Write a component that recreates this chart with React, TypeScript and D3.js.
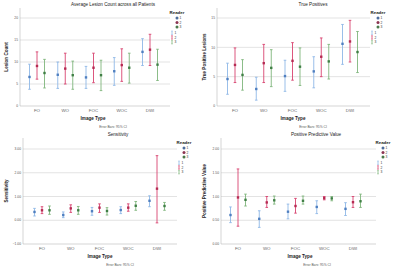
import React from "react";
import * as d3 from "d3";

const categories = ["FO", "WO", "FOC", "WOC", "DWI"];
const readers = ["1", "2", "3"];

// Average lesion count (per reader: FO, WO, FOC, WOC, DWI)
const lesionMean = [
  [6.6, 7.1, 6.5, 7.9, 12.3],
  [9.1, 8.5, 8.7, 9.3, 12.8],
  [7.5, 7.0, 7.0, 8.7, 9.4],
];
const lesionLow = [
  [3.8, 4.0, 4.0, 4.7, 9.2],
  [6.1, 5.0, 5.3, 5.6, 9.2],
  [4.1, 3.8, 3.5, 5.2, 5.8],
];
const lesionHigh = [
  [9.5, 10.0, 9.0, 11.0, 15.3],
  [12.3, 12.0, 12.0, 13.0, 16.3],
  [10.6, 10.2, 10.4, 12.0, 12.9],
];

// True positives
const tpMean = [
  [4.6, 2.9, 5.1, 5.9, 10.6],
  [7.0, 7.3, 7.7, 8.4, 11.0],
  [5.3, 6.5, 6.7, 7.6, 9.2],
];
const tpLow = [
  [2.0, 1.0, 2.5, 3.1, 7.1],
  [4.0, 4.0, 4.4, 5.0, 7.5],
  [2.7, 3.3, 3.5, 4.6, 5.7],
];
const tpHigh = [
  [7.3, 4.9, 7.8, 8.4, 13.9],
  [9.9, 10.5, 10.8, 11.6, 14.6],
  [7.9, 9.6, 9.9, 10.5, 12.7],
];

// Sensitivity
const sensMean = [
  [0.35, 0.22, 0.38, 0.43, 0.82],
  [0.42, 0.5, 0.53, 0.53, 1.33],
  [0.42, 0.42, 0.39, 0.61, 0.6],
];
const sensLow = [
  [0.18, 0.11, 0.21, 0.28, 0.57],
  [0.28, 0.33, 0.33, 0.38, -0.11],
  [0.25, 0.25, 0.22, 0.42, 0.42],
];
const sensHigh = [
  [0.5, 0.35, 0.54, 0.57, 1.03],
  [0.57, 0.65, 0.69, 0.69, 2.72],
  [0.6, 0.58, 0.53, 0.79, 0.75],
];

// Positive predictive value
const ppvMean = [
  [0.61, 0.53, 0.68, 0.78, 0.74],
  [0.98, 0.875, 0.8, 0.965, 0.88],
  [0.93, 0.92, 0.91, 0.96, 0.9],
];
const ppvLow = [
  [0.45, 0.35, 0.53, 0.64, 0.6],
  [0.375, 0.77, 0.65, 0.93, 0.77],
  [0.8, 0.84, 0.84, 0.91, 0.77],
];
const ppvHigh = [
  [0.78, 0.7, 0.84, 0.91, 0.87],
  [1.58, 1.0, 0.96, 1.0, 1.0],
  [1.05, 1.01, 1.01, 1.0, 1.05],
];

const lesionTicks = [0, 5, 10, 15, 20];
const tpTicks = [0, 5, 10, 15];
const sensTicks = [-1, 0, 1, 2, 3];
const ppvTicks = [0, 0.5, 1, 1.5, 2];

const barColors = ["#8fb8e6", "#d8436f", "#7fb57c"];
const markColors = ["#4f7fc0", "#b52a52", "#3f7f45"];
const legendColors = ["#4d6d9c", "#8c3552", "#4a7a4b"];

const FONT = "Arial, 'Liberation Sans', sans-serif";

type PanelProps = {
  title: string;
  ylabel: string;
  mean: number[][];
  low: number[][];
  high: number[][];
  ticks: number[];
  fmt: (v: number) => string;
  ox: number;
  oy: number;
  left: number;
  right: number;
  top: number;
  bottom: number;
  yTopTick: number; // pixel of highest tick
  catFirst: number;
  catLast: number;
  titleX: number;
  ylabelX: number;
  xlabelX: number;
  noteX: number;
  legX: number;
  barLegX: number;
};

function Panel(p: PanelProps) {
  const y = d3
    .scaleLinear()
    .domain([p.ticks[0], p.ticks[p.ticks.length - 1]])
    .range([p.bottom, p.yTopTick]);
  const x = d3.scalePoint<string>().domain(categories).range([p.catFirst, p.catLast]);
  const off = d3.scalePoint<string>().domain(readers).range([-7.5, 7.5]);
  const mid = (p.top + p.bottom) / 2;
  return (
    <g transform={`translate(${p.ox},${p.oy})`} fontFamily={FONT}>
      <text x={p.titleX} y={p.top - 2.5} fontSize={4.6} textAnchor="middle" fill="#222">
        {p.title}
      </text>
      {p.ticks.slice(1).map((t) => (
        <line key={t} x1={p.left} x2={p.right} y1={y(t)} y2={y(t)} stroke="#dcdcdc" strokeWidth={0.8} />
      ))}
      <line x1={p.left} x2={p.left} y1={p.top} y2={p.bottom} stroke="#bbb" strokeWidth={0.6} />
      <line x1={p.left} x2={p.right} y1={p.bottom} y2={p.bottom} stroke="#bbb" strokeWidth={0.6} />
      {p.ticks.map((t) => (
        <text key={t} x={p.left - 2} y={y(t) + 1.2} fontSize={3.3} textAnchor="end" fill="#555">
          {p.fmt(t)}
        </text>
      ))}
      {categories.map((c) => (
        <text key={c} x={x(c)} y={p.bottom + 5.5} fontSize={4.4} textAnchor="middle" fill="#666">
          {c}
        </text>
      ))}
      <text x={p.xlabelX} y={p.bottom + 14} fontSize={4.6} fontWeight="bold" textAnchor="middle" fill="#222">
        Image Type
      </text>
      <text x={p.noteX} y={p.bottom + 21.5} fontSize={3.3} textAnchor="middle" fill="#555">
        Error Bars: 95% CI
      </text>
      <text
        transform={`translate(${p.ylabelX},${mid}) rotate(-90)`}
        fontSize={4.6}
        fontWeight="bold"
        textAnchor="middle"
        fill="#222"
      >
        {p.ylabel}
      </text>
      {readers.map((r, ri) =>
        categories.map((c, ci) => {
          const cx = (x(c) as number) + (off(r) as number);
          const lo = y(p.low[ri][ci]);
          const hi = y(p.high[ri][ci]);
          const m = y(p.mean[ri][ci]);
          return (
            <g key={r + c}>
              <line x1={cx} x2={cx} y1={lo} y2={hi} stroke={barColors[ri]} strokeWidth={0.9} />
              <line x1={cx - 1.3} x2={cx + 1.3} y1={lo} y2={lo} stroke={barColors[ri]} strokeWidth={0.9} />
              <line x1={cx - 1.3} x2={cx + 1.3} y1={hi} y2={hi} stroke={barColors[ri]} strokeWidth={0.9} />
              <rect x={cx - 1.2} y={m - 1.2} width={2.4} height={2.4} fill={markColors[ri]} />
            </g>
          );
        })
      )}
      <text x={p.legX} y={p.top + 5.5} fontSize={4.4} fontWeight="bold" textAnchor="middle" fill="#222">
        Reader
      </text>
      {readers.map((r, ri) => (
        <g key={"l" + r}>
          <circle cx={p.legX} cy={p.top + 10 + ri * 4.5} r={1.5} fill={legendColors[ri]} />
          <text x={p.legX + 2.5} y={p.top + 11.2 + ri * 4.5} fontSize={3.3} fill="#333">
            {r}
          </text>
          <line
            x1={p.barLegX}
            x2={p.barLegX}
            y1={p.top + 23 + ri * 4.7}
            y2={p.top + 26.5 + ri * 4.7}
            stroke={barColors[ri]}
            strokeWidth={0.8}
          />
          <line x1={p.barLegX - 0.8} x2={p.barLegX + 0.8} y1={p.top + 23 + ri * 4.7} y2={p.top + 23 + ri * 4.7} stroke={barColors[ri]} strokeWidth={0.6} />
          <line x1={p.barLegX - 0.8} x2={p.barLegX + 0.8} y1={p.top + 26.5 + ri * 4.7} y2={p.top + 26.5 + ri * 4.7} stroke={barColors[ri]} strokeWidth={0.6} />
          <text x={p.barLegX + 2.5} y={p.top + 26 + ri * 4.7} fontSize={3.3} fill="#333">
            {r}
          </text>
        </g>
      ))}
    </g>
  );
}

const intFmt = (v: number) => d3.format("d")(v);
const decFmt = (v: number) => d3.format(".2f")(v);

export default function App() {
  return (
    <div style={{ position: "fixed", left: 0, top: 0, width: 400, height: 272, background: "#fff" }}>
      <svg width={400} height={272} style={{ display: "block" }}>
        <rect width={400} height={272} fill="#fff" />
        <Panel
          title="Average Lesion Count across all Patients"
          ylabel="Lesion Count"
          mean={lesionMean}
          low={lesionLow}
          high={lesionHigh}
          ticks={lesionTicks}
          fmt={intFmt}
          ox={0}
          oy={0}
          left={20}
          right={170}
          top={8}
          bottom={106}
          yTopTick={18}
          catFirst={37}
          catLast={150}
          titleX={113}
          ylabelX={8}
          xlabelX={93}
          noteX={113}
          legX={177}
          barLegX={172}
        />
        <Panel
          title="True Positives"
          ylabel="True Positive Lesions"
          mean={tpMean}
          low={tpLow}
          high={tpHigh}
          ticks={tpTicks}
          fmt={intFmt}
          ox={200}
          oy={0}
          left={17}
          right={170}
          top={8}
          bottom={106}
          yTopTick={18}
          catFirst={35}
          catLast={150}
          titleX={113}
          ylabelX={5.5}
          xlabelX={93}
          noteX={113}
          legX={178}
          barLegX={172}
        />
        <Panel
          title="Sensitivity"
          ylabel="Sensitivity"
          mean={sensMean}
          low={sensLow}
          high={sensHigh}
          ticks={sensTicks}
          fmt={decFmt}
          ox={0}
          oy={136}
          left={23}
          right={177}
          top={2}
          bottom={108}
          yTopTick={13}
          catFirst={42}
          catLast={157}
          titleX={118}
          ylabelX={7.5}
          xlabelX={100}
          noteX={120}
          legX={184}
          barLegX={179}
        />
        <Panel
          title="Positive Predictive Value"
          ylabel="Positive Predictive Value"
          mean={ppvMean}
          low={ppvLow}
          high={ppvHigh}
          ticks={ppvTicks}
          fmt={decFmt}
          ox={200}
          oy={136}
          left={21}
          right={176}
          top={2}
          bottom={108}
          yTopTick={13}
          catFirst={38}
          catLast={153}
          titleX={116}
          ylabelX={6}
          xlabelX={100}
          noteX={117}
          legX={183}
          barLegX={178}
        />
      </svg>
    </div>
  );
}
